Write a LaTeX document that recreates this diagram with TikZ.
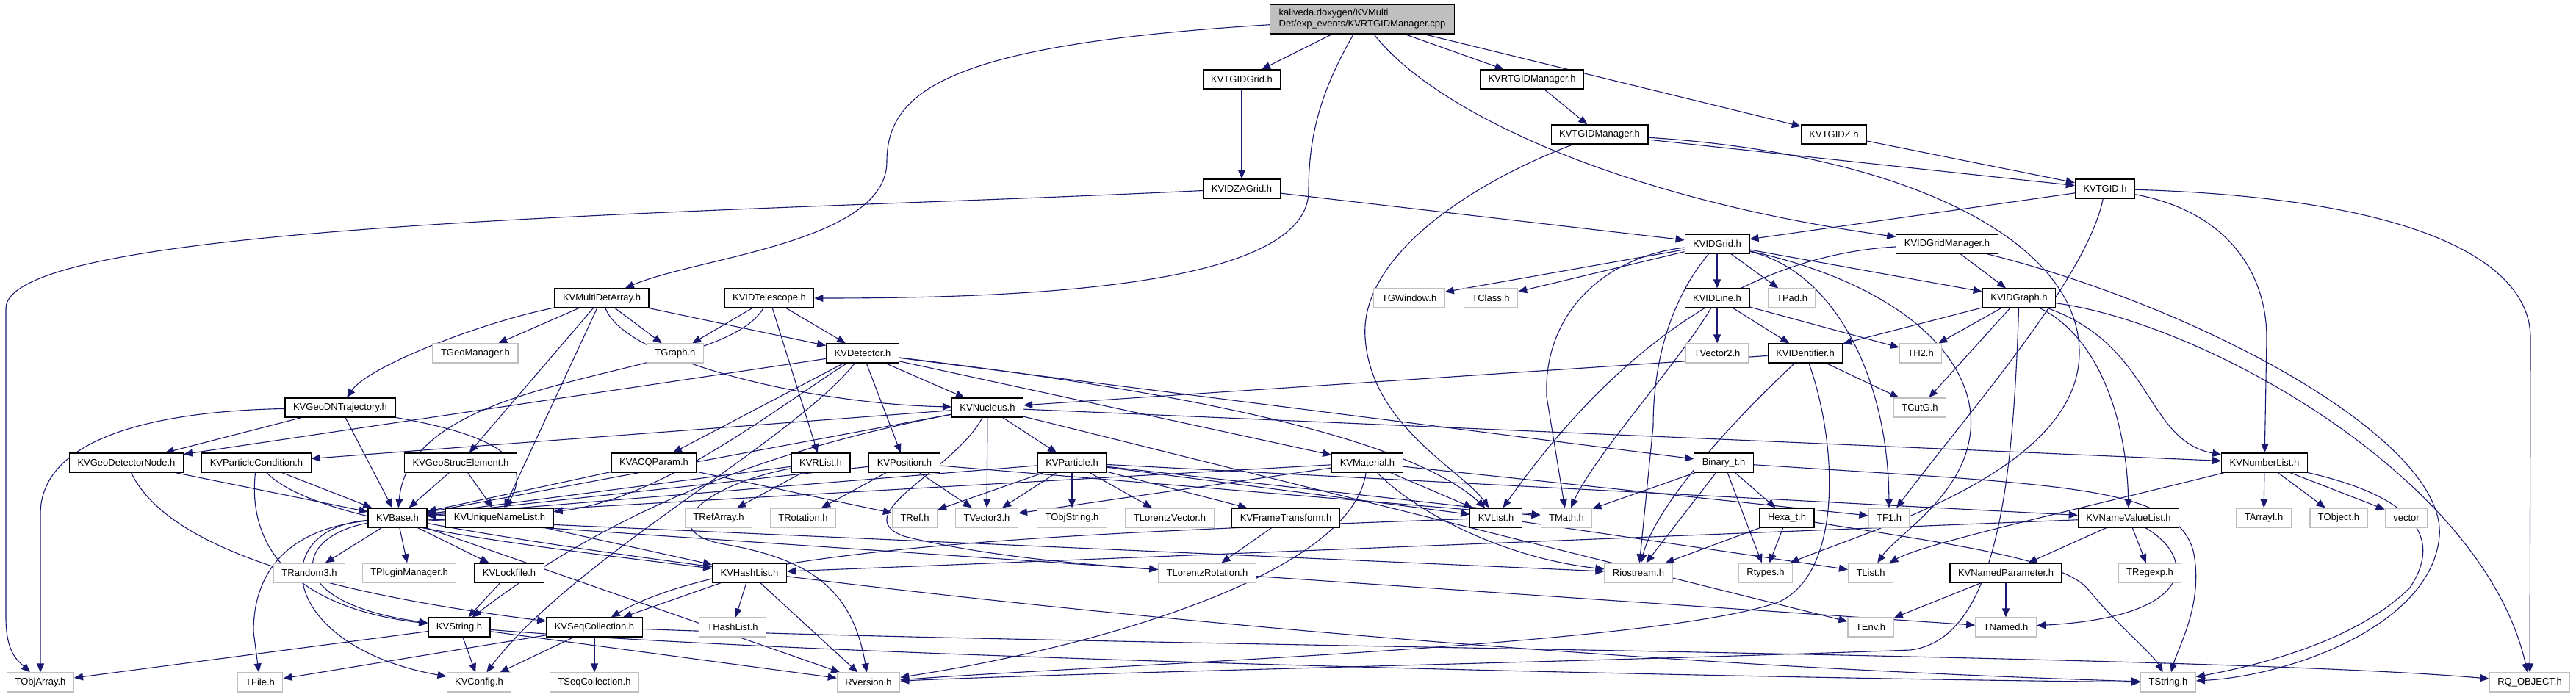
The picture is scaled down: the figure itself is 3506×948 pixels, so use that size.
\documentclass[tikz,border=0pt]{standalone}
\usepackage{fontspec}
\setmainfont{Liberation Sans}
\usetikzlibrary{arrows.meta}
\definecolor{edgec}{HTML}{191970}
\definecolor{extc}{HTML}{BFBFBF}
\definecolor{rootc}{HTML}{BFBFBF}
\pgfdeclarelayer{bg}
\pgfsetlayers{bg,main}
\begin{document}
\begin{tikzpicture}[x=0.5pt,y=-0.5pt,
 nd/.style={rectangle, inner xsep=5.5pt, inner ysep=0pt, minimum height=13pt, font=\fontsize{6.5}{7.6}\selectfont, line width=0.6pt},
 kv/.style={nd, draw=black, fill=white},
 ext/.style={nd, draw=extc, fill=white},
 rootn/.style={nd, draw=black, fill=rootc, align=left, minimum height=20pt, inner xsep=6pt},
 e/.style={draw=edgec, line width=0.55pt, -{Triangle[length=6pt,width=5pt]}}]
\useasboundingbox (0,0) rectangle (3506,948);
% rows
\node[rootn] (R) at (1854,26) {kaliveda.doxygen/KVMulti\\Det/exp\_events/KVRTGIDManager.cpp};
\node[kv] (tgidgrid) at (1690,108) {KVTGIDGrid.h};
\node[kv] (rtgidm) at (2085,108) {KVRTGIDManager.h};
\node[kv] (tgidm) at (2177,183) {KVTGIDManager.h};
\node[kv] (tgidz) at (2496,183) {KVTGIDZ.h};
\node[kv] (idzagrid) at (1690,257) {KVIDZAGrid.h};
\node[kv] (tgid) at (2865,257) {KVTGID.h};
\node[kv] (idgrid) at (2337,332) {KVIDGrid.h};
\node[kv] (idgridm) at (2650,332) {KVIDGridManager.h};
\node[kv] (mda) at (819,406) {KVMultiDetArray.h};
\node[kv] (idtel) at (1047,406) {KVIDTelescope.h};
\node[ext] (tgwin) at (1918,406) {TGWindow.h};
\node[ext] (tclass) at (2029,406) {TClass.h};
\node[kv] (idline) at (2337,406) {KVIDLine.h};
\node[ext] (tpad) at (2439,406) {TPad.h};
\node[kv] (idgraph) at (2748,406) {KVIDGraph.h};
\node[ext] (tgeom) at (647,481) {TGeoManager.h};
\node[ext] (tgraph) at (919,481) {TGraph.h};
\node[kv] (det) at (1174,481) {KVDetector.h};
\node[ext] (tvec2) at (2337,481) {TVector2.h};
\node[kv] (ident) at (2457,481) {KVIDentifier.h};
\node[ext] (th2) at (2614,481) {TH2.h};
\node[kv] (traj) at (463,555) {KVGeoDNTrajectory.h};
\node[kv] (nuc) at (1344,555) {KVNucleus.h};
\node[ext] (tcutg) at (2613,555) {TCutG.h};
\node[kv] (gdn) at (172,630) {KVGeoDetectorNode.h};
\node[kv] (pcond) at (349,630) {KVParticleCondition.h};
\node[kv] (gse) at (627,630) {KVGeoStrucElement.h};
\node[kv] (acq) at (890,630) {KVACQParam.h};
\node[kv] (rlist) at (1117,630) {KVRList.h};
\node[kv] (pos) at (1231,630) {KVPosition.h};
\node[kv] (part) at (1459,630) {KVParticle.h};
\node[kv] (mat) at (1861,630) {KVMaterial.h};
\node[kv] (bin) at (2346,630) {Binary\_t.h};
\node[kv] (numl) at (3082,630) {KVNumberList.h};
\node[kv] (base) at (541,705) {KVBase.h};
\node[kv] (unl) at (680,705) {KVUniqueNameList.h};
\node[ext] (trefarr) at (978,705) {TRefArray.h};
\node[ext] (trot) at (1093,705) {TRotation.h};
\node[ext] (tref) at (1245,705) {TRef.h};
\node[ext] (tvec3) at (1343,705) {TVector3.h};
\node[ext] (tobjs) at (1459,705) {TObjString.h};
\node[ext] (tlv) at (1592,705) {TLorentzVector.h};
\node[kv] (ft) at (1750,705) {KVFrameTransform.h};
\node[kv] (kvlist) at (2036,705) {KVList.h};
\node[ext] (tmath) at (2132,705) {TMath.h};
\node[kv] (hexa) at (2432,705) {Hexa\_t.h};
\node[ext] (tf1) at (2571,705) {TF1.h};
\node[kv] (nvl) at (2897,705) {KVNameValueList.h};
\node[ext] (tarri) at (3081,705) {TArrayI.h};
\node[ext] (tobj) at (3183,705) {TObject.h};
\node[ext] (vec) at (3275,705) {vector};
\node[ext] (trand) at (421,780) {TRandom3.h};
\node[ext] (tplug) at (557,780) {TPluginManager.h};
\node[kv] (lock) at (693,780) {KVLockfile.h};
\node[kv] (hash) at (1020,780) {KVHashList.h};
\node[ext] (tlr) at (1643,780) {TLorentzRotation.h};
\node[ext] (rio) at (2230,780) {Riostream.h};
\node[ext] (rtypes) at (2403,780) {Rtypes.h};
\node[ext] (tlist) at (2546,780) {TList.h};
\node[kv] (np) at (2730,780) {KVNamedParameter.h};
\node[ext] (tregexp) at (2926,780) {TRegexp.h};
\node[kv] (str) at (625,854) {KVString.h};
\node[kv] (seq) at (809,854) {KVSeqCollection.h};
\node[ext] (thash) at (997,854) {THashList.h};
\node[ext] (tenv) at (2546,854) {TEnv.h};
\node[ext] (tnamed) at (2730,854) {TNamed.h};
\node[ext] (tobjarr) at (55,929) {TObjArray.h};
\node[ext] (tfile) at (354,929) {TFile.h};
\node[ext] (config) at (652,929) {KVConfig.h};
\node[ext] (tseq) at (809,929) {TSeqCollection.h};
\node[ext] (rver) at (1182,929) {RVersion.h};
\node[ext] (tstring) at (2951,929) {TString.h};
\node[ext] (rq) at (3443,929) {RQ\_OBJECT.h};

\begin{pgfonlayer}{bg}
\fill[white] (0,0) rectangle (3506,948);
% root
\draw[e] (R) .. controls (1300,60) and (1207,120) .. (1207,220) .. controls (1207,330) and (950,350) .. (mda);
\draw[e] (R) .. controls (1800,120) and (1781,180) .. (1781,260) .. controls (1781,390) and (1400,406) .. (idtel);
\draw[e] (R) -- (tgidgrid);
\draw[e] (R) -- (rtgidm);
\draw[e] (R) -- (tgidz);
\draw[e] (R) .. controls (1950,150) and (2200,270) .. (idgridm);
% upper
\draw[e] (tgidgrid) -- (idzagrid);
\draw[e] (idzagrid) -- (idgrid);
\draw[e] (idzagrid) .. controls (1000,290) and (8,300) .. (8,420) -- (8,840) .. controls (8,890) and (25,900) .. (tobjarr);
\draw[e] (rtgidm) -- (tgidm);
\draw[e] (tgidm) -- (tgid);
\draw[e] (tgidm) .. controls (2000,250) and (1850,350) .. (1858,460) .. controls (1866,580) and (1990,640) .. (kvlist);
\draw[e] (tgidm) .. controls (2600,210) and (2830,330) .. (2830,480) .. controls (2830,640) and (2550,720) .. (rtypes);
\draw[e] (tgidz) -- (tgid);
\draw[e] (tgid) -- (idgrid);
\draw[e] (tgid) .. controls (2840,380) and (2680,560) .. (tf1);
\draw[e] (tgid) .. controls (3040,290) and (3085,380) .. (3085,460) -- (numl);
\draw[e] (tgid) .. controls (3300,270) and (3444,360) .. (3444,460) -- (rq);
\draw[e] (idgridm) -- (idgraph);
\draw[e] (idgridm) .. controls (2420,345) and (2230,430) .. (kvlist);
\draw[e] (idgridm) .. controls (3000,420) and (3330,600) .. (3320,730) .. controls (3310,850) and (3120,920) .. (tstring);
% KVIDGrid
\draw[e] (idgrid) -- (tgwin);
\draw[e] (idgrid) -- (tclass);
\draw[e] (idgrid) -- (idline);
\draw[e] (idgrid) -- (tpad);
\draw[e] (idgrid) -- (idgraph);
\draw[e] (idgrid) .. controls (2180,350) and (2100,430) .. (2105,540) -- (tmath);
\draw[e] (idgrid) .. controls (2280,400) and (2250,480) .. (2250,580) -- (rio);
\draw[e] (idgrid) .. controls (2500,370) and (2570,520) .. (tf1);
\draw[e] (idgrid) .. controls (2600,390) and (2700,500) .. (2680,600) .. controls (2665,680) and (2580,730) .. (tlist);
% KVIDLine
\draw[e] (idline) -- (tvec2);
\draw[e] (idline) -- (ident);
\draw[e] (idline) -- (th2);
\draw[e] (idline) .. controls (2280,500) and (2170,620) .. (tmath);
% KVIDGraph
\draw[e] (idgraph) -- (ident);
\draw[e] (idgraph) -- (th2);
\draw[e] (idgraph) -- (tcutg);
\draw[e] (idgraph) .. controls (2860,460) and (2895,580) .. (nvl);
\draw[e] (idgraph) .. controls (2930,470) and (2920,600) .. (numl);
\draw[e] (idgraph) .. controls (3000,440) and (3380,650) .. (rq);
\draw[e] (idgraph) .. controls (2740,650) and (2720,870) .. (2600,885) .. controls (2200,900) and (1500,915) .. (rver);
% KVIDentifier
\draw[e] (ident) -- (tcutg);
\draw[e] (ident) -- (nuc);
\draw[e] (ident) .. controls (2330,600) and (2250,700) .. (rio);
\draw[e] (ident) .. controls (2500,600) and (2510,780) .. (2420,820) .. controls (2250,880) and (1500,905) .. (rver);
% KVMultiDetArray
\draw[e] (mda) .. controls (650,440) and (500,500) .. (traj);
\draw[e] (mda) -- (tgeom);
\draw[e] (mda) -- (gse);
\draw[e] (mda) -- (unl);
\draw[e] (mda) .. controls (850,490) and (1100,550) .. (nuc);
\draw[e] (mda) -- (tgraph);
\draw[e] (mda) -- (det);
% KVIDTelescope
\draw[e] (idtel) -- (tgraph);
\draw[e] (idtel) .. controls (980,520) and (560,500) .. (base);
\draw[e] (idtel) -- (rlist);
\draw[e] (idtel) -- (det);
% KVDetector
\draw[e] (det) -- (gdn);
\draw[e] (det) -- (acq);
\draw[e] (det) .. controls (1080,600) and (780,760) .. (config);
\draw[e] (det) .. controls (1050,560) and (900,680) .. (unl);
\draw[e] (det) -- (nuc);
\draw[e] (det) -- (pos);
\draw[e] (det) -- (mat);
\draw[e] (det) -- (bin);
\draw[e] (det) .. controls (1500,520) and (1900,580) .. (kvlist);
% KVGeoDNTrajectory
\draw[e] (traj) .. controls (200,560) and (55,600) .. (55,700) -- (tobjarr);
\draw[e] (traj) -- (gdn);
\draw[e] (traj) -- (base);
\draw[e] (traj) .. controls (660,590) and (730,620) .. (unl);
% row 8
\draw[e] (gdn) -- (base);
\draw[e] (gdn) .. controls (220,730) and (380,800) .. (seq);
\draw[e] (pcond) -- (base);
\draw[e] (pcond) .. controls (335,760) and (420,830) .. (str);
\draw[e] (pcond) .. controls (420,700) and (600,730) .. (hash);
\draw[e] (gse) -- (base);
\draw[e] (gse) -- (unl);
\draw[e] (acq) -- (base);
\draw[e] (acq) -- (tref);
\draw[e] (rlist) -- (base);
\draw[e] (rlist) -- (trefarr);
\draw[e] (rlist) .. controls (960,660) and (890,720) .. (980,740) .. controls (1100,760) and (1160,800) .. (rver);
\draw[e] (pos) -- (base);
\draw[e] (pos) -- (trot);
\draw[e] (pos) -- (tvec3);
\draw[e] (pos) -- (tmath);
\draw[e] (part) -- (base);
\draw[e] (part) -- (tref);
\draw[e] (part) -- (tvec3);
\draw[e] (part) -- (tobjs);
\draw[e] (part) -- (tlv);
\draw[e] (part) -- (ft);
\draw[e] (part) -- (kvlist);
\draw[e] (part) -- (tmath);
\draw[e] (part) -- (nvl);
\draw[e] (mat) -- (base);
\draw[e] (mat) -- (tvec3);
\draw[e] (mat) -- (kvlist);
\draw[e] (mat) .. controls (1930,700) and (2050,760) .. (rio);
\draw[e] (mat) .. controls (1840,780) and (1500,880) .. (rver);
\draw[e] (mat) -- (tf1);
% KVNucleus
\draw[e] (nuc) -- (pcond);
\draw[e] (nuc) -- (base);
\draw[e] (nuc) .. controls (1000,620) and (800,720) .. (str);
\draw[e] (nuc) -- (part);
\draw[e] (nuc) -- (tvec3);
\draw[e] (nuc) .. controls (1300,640) and (1150,700) .. (1230,730) .. controls (1350,760) and (1500,770) .. (tlr);
\draw[e] (nuc) -- (tenv);
\draw[e] (nuc) -- (numl);
\draw[e] (ft) -- (tlr);
% Binary / Hexa
\draw[e] (bin) -- (tmath);
\draw[e] (bin) -- (rio);
\draw[e] (bin) -- (rtypes);
\draw[e] (bin) -- (hexa);
\draw[e] (bin) .. controls (2800,660) and (2960,660) .. (2985,750) .. controls (3000,820) and (2965,880) .. (tstring);
\draw[e] (hexa) -- (rio);
\draw[e] (hexa) -- (rtypes);
\draw[e] (hexa) .. controls (2650,740) and (2800,760) .. (2840,800) .. controls (2880,850) and (2930,890) .. (tstring);
% KVNumberList
\draw[e] (numl) -- (tarri);
\draw[e] (numl) -- (tobj);
\draw[e] (numl) -- (vec);
\draw[e] (numl) .. controls (2800,700) and (2620,740) .. (tlist);
\draw[e] (numl) .. controls (3300,680) and (3320,740) .. (3280,800) .. controls (3200,880) and (3050,910) .. (tstring);
% KVNameValueList
\draw[e] (nvl) -- (np);
\draw[e] (nvl) -- (tregexp);
\draw[e] (nvl) .. controls (2990,760) and (2990,840) .. (tnamed);
\draw[e] (nvl) -- (hash);
\draw[e] (np) -- (tenv);
\draw[e] (np) -- (tnamed);
% KVBase
\draw[e] (base) -- (trand);
\draw[e] (base) -- (tplug);
\draw[e] (base) -- (lock);
\draw[e] (base) .. controls (400,730) and (380,820) .. (str);
\draw[e] (base) .. controls (360,720) and (380,880) .. (config);
\draw[e] (base) .. controls (390,720) and (345,780) .. (345,860) -- (tfile);
\draw[e] (base) -- (rver);
\draw[e] (base) -- (rio);
\draw[e] (base) -- (tnamed);
\draw[e] (base) .. controls (1000,790) and (2000,900) .. (tstring);
% lower
\draw[e] (unl) -- (hash);
\draw[e] (hash) -- (seq);
\draw[e] (hash) -- (thash);
\draw[e] (hash) -- (rver);
\draw[e] (lock) -- (str);
\draw[e] (str) -- (tobjarr);
\draw[e] (str) -- (config);
\draw[e] (str) -- (rver);
\draw[e] (str) .. controls (1200,900) and (2500,925) .. (tstring);
\draw[e] (seq) -- (tfile);
\draw[e] (seq) -- (config);
\draw[e] (seq) -- (tseq);
\draw[e] (seq) .. controls (1500,880) and (3000,890) .. (rq);
\draw[e] (kvlist) .. controls (1500,725) and (1000,740) .. (seq);
\draw[e] (kvlist) -- (tlist);
\end{pgfonlayer}
\end{tikzpicture}
\end{document}
